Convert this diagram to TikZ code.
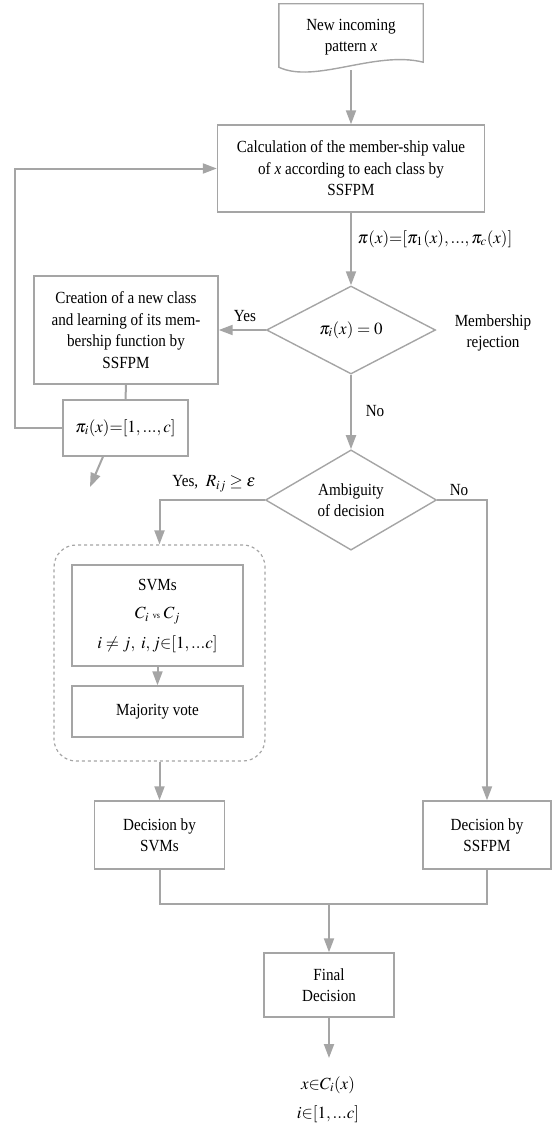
\documentclass[tikz,border=0pt]{standalone}
\usepackage{mathptmx}
\usepackage[no-math]{fontspec}
\setmainfont{Liberation Serif}[FakeStretch=0.89]
\usetikzlibrary{arrows.meta,shapes.geometric}
\definecolor{lg}{HTML}{A5A5A5}
\newcommand\fs{\fontsize{17}{21.5}\selectfont}
\newcommand\vsf{\fontsize{9}{10}\selectfont}
\tikzset{
 box/.style={draw=lg,line width=1.4pt,align=center,inner sep=0pt,font=\fs},
 dia/.style={diamond,draw=lg,line width=1.4pt,align=center,inner sep=0pt,font=\fs},
 arr/.style={draw=lg,line width=2pt,-{Triangle[length=14pt,width=10pt]}},
 ln/.style={draw=lg,line width=2pt},
 lbl/.style={align=center,font=\fs,inner sep=0pt},
}
\begin{document}
\begin{tikzpicture}[x=1pt,y=-1pt]
\useasboundingbox (0,0) rectangle (552,1124);
% document shape
\node[lbl,minimum width=144pt,minimum height=66pt] (doc) at (351,37) {New incoming\\pattern \textit{x}};
\draw[lg,line width=1.4pt] (doc.north west) -- (doc.north east) -- ([yshift=8pt]doc.south east)
  .. controls ([xshift=-48pt,yshift=20pt]doc.south east) and ([xshift=36pt,yshift=-14pt]doc.south west) .. ([yshift=3pt]doc.south west) -- cycle;
\node[box,minimum width=267pt,minimum height=87pt] (calc) at (351,168.5) {Calculation of the member-ship value\\of \textit{x} according to each class by\\SSFPM};
\draw[arr] (doc.south) -- (calc.north);
\node[lbl] (pilbl) at (435,239) {$\pi(x){=}[\pi_1(x),...,\pi_c(x)]$};
% first decision
\node[dia,minimum width=169pt,minimum height=88pt] (d1) at (351,330) {$\pi_i(x)=0$};
\draw[arr] (calc.south) -- (d1.north);
\node[lbl] (memrej) at (493,333) {Membership\\rejection};
\node[box,minimum width=184pt,minimum height=108pt] (create) at (126,330) {Creation of a new class\\and learning of its mem-\\bership function by\\SSFPM};
\draw[arr] (d1.west) -- (create.east);
\node[lbl] (yes1) at (245,316) {Yes};
\node[box,minimum width=125pt,minimum height=56pt] (pii) at (125.5,428) {$\pi_i(x){=}[1,...,c]$};
\draw[ln] (create.south) -- (pii.north);
\draw[arr] (pii.west) -- ++(-47,0) |- (calc.west);
\coordinate (pout) at (90,487);
\draw[arr] ([xshift=-22.5pt]pii.south) -- (pout);
% second decision
\node[dia,minimum width=171pt,minimum height=98pt] (d2) at (351,500) {Ambiguity\\of decision};
\draw[arr] (d1.south) -- (d2.north);
\node[lbl] (no1) at (375,411) {No};
\node[draw=lg,dashed,line width=1.2pt,rounded corners=22pt,minimum width=211pt,minimum height=216pt] (grp) at (159.5,653) {};
\draw[arr] (d2.west) -| (grp.north);
\node[lbl] (yes2) at (214,484) {Yes, \ $R_{ij}\geq\varepsilon$};
\node[box,minimum width=171pt,minimum height=101pt] (svm) at (157.5,615.5) {SVMs\\[7pt]$C_i$ {\vsf vs} $C_j$\\[8pt]$i\neq j,\ i,j{\in}[1,...c]$};
\node[box,minimum width=171pt,minimum height=51pt] (maj) at (157.5,711.5) {Majority vote};
\draw[arr] (svm.south) -- (maj.north);
\node[box,minimum width=130pt,minimum height=68pt] (decsvm) at (159.5,835) {Decision by\\SVMs};
\draw[arr] (grp.south) -- (decsvm.north);
\node[box,minimum width=128pt,minimum height=68pt] (decss) at (487,835) {Decision by\\SSFPM};
\draw[arr] (d2.east) -| (decss.north);
\node[lbl] (no2) at (459,490) {No};
% final
\node[box,minimum width=130pt,minimum height=64pt] (final) at (329,985) {Final\\Decision};
\coordinate (mj) at (329,904);
\draw[ln] (decsvm.south) |- (mj) -| (decss.south);
\draw[arr] (mj) -- (final.north);
\coordinate (out) at (329,1058);
\draw[arr] (final.south) -- (out);
\node[lbl] (res) at (328,1099.5) {$x{\in}C_i(x)$\\[8pt]$i{\in}[1,...c]$};
\end{tikzpicture}
\end{document}
